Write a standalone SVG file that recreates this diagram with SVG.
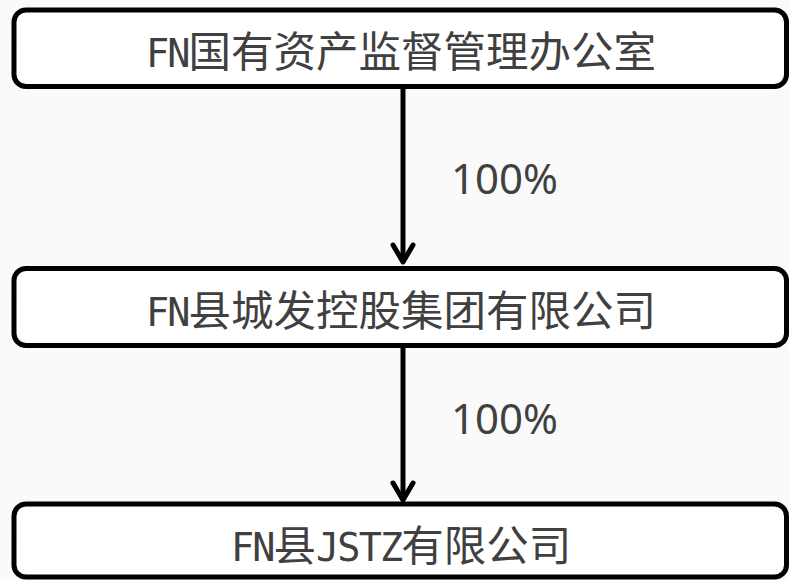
<svg xmlns="http://www.w3.org/2000/svg" width="789" height="580" viewBox="0 0 789 580">
  <style>
    .box { fill: #ffffff; stroke: #000000; stroke-width: 5; }
    .label { font-family: "Noto Sans CJK SC", "Noto Sans", sans-serif; font-size: 42.5px; fill: #404040; }
    .lat { font-family: "DejaVu Sans Mono", "Liberation Mono", monospace; font-size: 38.5px; letter-spacing: -1.9px; }
    .pct { font-family: "Noto Sans", "Open Sans", sans-serif; font-size: 42px; fill: #404040; }
    .conn { stroke: #000000; stroke-width: 5; fill: none; }
  </style>
  <defs>
    <marker id="arrow" markerUnits="userSpaceOnUse" markerWidth="40" markerHeight="40" viewBox="-20 -20 40 40" refX="0" refY="0" orient="auto" overflow="visible">
      <path d="M-17,-10 L0,0 L-17,10" fill="none" stroke="#000000" stroke-width="5" stroke-linecap="round" stroke-linejoin="round"/>
    </marker>
  </defs>
  <rect width="789" height="580" fill="#fafafa"/>

  <g id="connectors">
    <line class="conn" x1="403" y1="88" x2="403" y2="262" marker-end="url(#arrow)"/>
    <line class="conn" x1="403" y1="347" x2="403" y2="500" marker-end="url(#arrow)"/>
    <text class="pct" x="451" y="194">100%</text>
    <text class="pct" x="451" y="434">100%</text>
  </g>

  <g id="node-top">
    <rect class="box" x="14" y="10" width="772.5" height="76.5" rx="12"/>
    <text class="label" x="146" y="67"><tspan class="lat">FN</tspan>国有资产监督管理办公室</text>
  </g>

  <g id="node-middle">
    <rect class="box" x="14" y="268.5" width="772.5" height="77" rx="12"/>
    <text class="label" x="146" y="326"><tspan class="lat">FN</tspan>县城发控股集团有限公司</text>
  </g>

  <g id="node-bottom">
    <rect class="box" x="14" y="504" width="772.5" height="73" rx="12"/>
    <text class="label" x="231" y="561"><tspan class="lat">FN</tspan>县<tspan class="lat">JSTZ</tspan>有限公司</text>
  </g>
</svg>
